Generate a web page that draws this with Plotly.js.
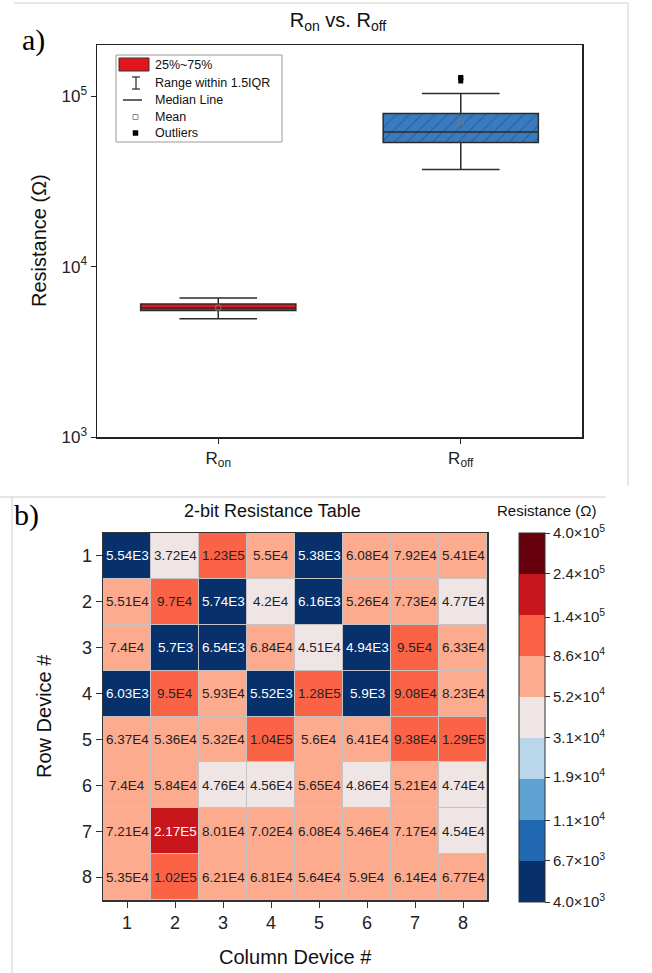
<!DOCTYPE html>
<html>
<head>
<meta charset="utf-8">
<script src="https://cdn.plot.ly/plotly-3.0.1.min.js"></script>
<style>html,body{margin:0;padding:0;background:#fff;}#chart{width:652px;height:973px;}</style>
</head>
<body>
<div id="chart"></div>
<script>
// ---------------- DATA ----------------
const colLabels = ['1','2','3','4','5','6','7','8'];
const rowLabels = ['1','2','3','4','5','6','7','8'];
const row1 = [5.54e3, 3.72e4, 1.23e5, 5.5e4, 5.38e3, 6.08e4, 7.92e4, 5.41e4];
const row2 = [5.51e4, 9.7e4, 5.74e3, 4.2e4, 6.16e3, 5.26e4, 7.73e4, 4.77e4];
const row3 = [7.4e4, 5.7e3, 6.54e3, 6.84e4, 4.51e4, 4.94e3, 9.5e4, 6.33e4];
const row4 = [6.03e3, 9.5e4, 5.93e4, 5.52e3, 1.28e5, 5.9e3, 9.08e4, 8.23e4];
const row5 = [6.37e4, 5.36e4, 5.32e4, 1.04e5, 5.6e4, 6.41e4, 9.38e4, 1.29e5];
const row6 = [7.4e4, 5.84e4, 4.76e4, 4.56e4, 5.65e4, 4.86e4, 5.21e4, 4.74e4];
const row7 = [7.21e4, 2.17e5, 8.01e4, 7.02e4, 6.08e4, 5.46e4, 7.17e4, 4.54e4];
const row8 = [5.35e4, 1.02e5, 6.21e4, 6.81e4, 5.64e4, 5.9e4, 6.14e4, 6.77e4];
const rows = [row1, row2, row3, row4, row5, row6, row7, row8];

const boxCats = ['R<sub>on</sub>', 'R<sub>off</sub>'];
const onThreshold = 1e4; // cells below are the ON state
const yTickVals = [1e3, 1e4, 1e5];
const yTickText = ['10<sup>3</sup>', '10<sup>4</sup>', '10<sup>5</sup>'];

const cbLevels = [4.0e3, 6.7e3, 1.1e4, 1.9e4, 3.1e4, 5.2e4, 8.6e4, 1.4e5, 2.4e5, 4.0e5];
const cbLabels = ['4.0×10<sup>3</sup>','6.7×10<sup>3</sup>','1.1×10<sup>4</sup>','1.9×10<sup>4</sup>','3.1×10<sup>4</sup>',
                  '5.2×10<sup>4</sup>','8.6×10<sup>4</sup>','1.4×10<sup>5</sup>','2.4×10<sup>5</sup>','4.0×10<sup>5</sup>'];
const binColors = ['#08306b','#2068b0','#5fa3d3','#bad6eb','#efe5e5','#fcab8f','#fb6346','#c9161c','#67000d'];

// ---------------- HELPERS ----------------
const W = 652, H = 973;
const P = x => x / W;
const Q = y => 1 - y / H;
const FONT = 'Liberation Sans, Arial, sans-serif';
const SERIF = 'Liberation Serif, Times New Roman, serif';
const fmt = v => {
  const e = Math.floor(Math.log10(v));
  let m = (v / Math.pow(10, e)).toFixed(2).replace(/0+$/, '').replace(/\.$/, '');
  return m + 'E' + e;
};

const allVals = rows.flat();
const onVals = allVals.filter(v => v < onThreshold);
const offVals = allVals.filter(v => v >= onThreshold);

// discrete colorscale
const zmin = Math.log10(cbLevels[0]), zmax = Math.log10(cbLevels[cbLevels.length - 1]);
const colorscale = [];
binColors.forEach((c, i) => {
  colorscale.push([i / binColors.length, c]);
  colorscale.push([(i + 1) / binColors.length, c]);
});

const zLog = rows.map(r => r.map(v => Math.log10(v)));
const xIdx = colLabels.map((_, i) => i + 1);
const yIdx = rowLabels.map((_, i) => i + 1);

// ---------------- TRACES ----------------
const lineCol = '#2b2b2b';
const boxOn = {
  type: 'box', x: onVals.map(() => boxCats[0]), y: onVals, xaxis: 'x', yaxis: 'y',
  width: 0.64, whiskerwidth: 0.5, fillcolor: '#e4161b',
  line: {color: lineCol, width: 1.5}, boxpoints: 'outliers',
  marker: {symbol: 'square', size: 5, color: '#000'}, showlegend: false, hoverinfo: 'y'
};
const boxOff = {
  type: 'box', x: offVals.map(() => boxCats[1]), y: offVals, xaxis: 'x', yaxis: 'y',
  width: 0.64, whiskerwidth: 0.5, fillcolor: 'rgba(0,0,0,0)',
  line: {color: lineCol, width: 1.5}, boxpoints: 'outliers',
  marker: {symbol: 'square', size: 5, color: '#000'}, showlegend: false, hoverinfo: 'y'
};
const heat = {
  type: 'heatmap', z: zLog, x: xIdx, y: yIdx, xaxis: 'x2', yaxis: 'y2',
  zmin: zmin, zmax: zmax, colorscale: colorscale, xgap: 1, ygap: 1,
  hoverinfo: 'skip',
  colorbar: {
    x: P(519), xanchor: 'left', y: Q(533), yanchor: 'top',
    len: 369, lenmode: 'pixels', thickness: 26, thicknessmode: 'pixels',
    xpad: 0, ypad: 0, outlinewidth: 1, outlinecolor: '#333',
    tickmode: 'array', tickvals: cbLevels.map(v => Math.log10(v)), ticktext: cbLabels,
    ticks: 'outside', ticklen: 5, tickcolor: '#333',
    tickfont: {family: FONT, size: 15, color: '#222'}
  }
};

// ---------------- ANNOTATIONS / SHAPES ----------------
const annotations = [];
const shapes = [];
const label = (text, x, y, size, opts) => Object.assign({
  xref: 'paper', yref: 'paper', x: P(x), y: Q(y), xanchor: 'center', yanchor: 'middle',
  text: text, showarrow: false, font: {family: FONT, size: size, color: '#111'}
}, opts || {});

// cell texts
rows.forEach((r, i) => r.forEach((v, j) => {
  const lz = Math.log10(v);
  const bin = Math.floor((lz - zmin) / (zmax - zmin) * binColors.length);
  const light = (bin <= 1 || bin >= 7);
  annotations.push({
    xref: 'x2', yref: 'y2', x: xIdx[j], y: yIdx[i], xanchor: 'center', yanchor: 'middle',
    text: fmt(v), showarrow: false,
    font: {family: FONT, size: 13.5, color: light ? '#ffffff' : '#222222'}
  });
}));

// background for heatmap cell borders
shapes.push({type: 'rect', xref: 'x2', yref: 'y2', x0: 0.5, x1: 8.5, y0: 0.5, y1: 8.5,
  fillcolor: '#c4c4c4', line: {width: 0}, layer: 'below'});

// panel frames
const frameCol = '#cfcfcf';
shapes.push({type: 'line', xref: 'paper', yref: 'paper', x0: P(14), x1: P(628), y0: Q(3), y1: Q(3), line: {color: frameCol, width: 1}});
shapes.push({type: 'line', xref: 'paper', yref: 'paper', x0: P(628), x1: P(628), y0: Q(3), y1: Q(486), line: {color: frameCol, width: 1}});
shapes.push({type: 'line', xref: 'paper', yref: 'paper', x0: P(0), x1: P(606), y0: Q(497), y1: Q(497), line: {color: frameCol, width: 1}});
shapes.push({type: 'line', xref: 'paper', yref: 'paper', x0: P(12), x1: P(12), y0: Q(497), y1: Q(973), line: {color: frameCol, width: 1}});

// legend box (panel a)
shapes.push({type: 'rect', xref: 'paper', yref: 'paper', x0: P(116), x1: P(282), y0: Q(55), y1: Q(142),
  fillcolor: '#ffffff', line: {color: '#9a9a9a', width: 1}});
shapes.push({type: 'rect', xref: 'paper', yref: 'paper', x0: P(119), x1: P(149), y0: Q(58), y1: Q(71),
  fillcolor: '#e4161b', line: {color: '#333', width: 1}});
shapes.push({type: 'line', xref: 'paper', yref: 'paper', x0: P(136), x1: P(136), y0: Q(77), y1: Q(89), line: {color: '#222', width: 1.2}});
shapes.push({type: 'line', xref: 'paper', yref: 'paper', x0: P(132), x1: P(140), y0: Q(77), y1: Q(77), line: {color: '#222', width: 1.2}});
shapes.push({type: 'line', xref: 'paper', yref: 'paper', x0: P(132), x1: P(140), y0: Q(89), y1: Q(89), line: {color: '#222', width: 1.2}});
shapes.push({type: 'line', xref: 'paper', yref: 'paper', x0: P(123), x1: P(142), y0: Q(100), y1: Q(100), line: {color: '#222', width: 1.4}});
shapes.push({type: 'rect', xref: 'paper', yref: 'paper', x0: P(133), x1: P(138), y0: Q(114.5), y1: Q(119.5), fillcolor: '#fff', line: {color: '#888', width: 1}});
shapes.push({type: 'rect', xref: 'paper', yref: 'paper', x0: P(133), x1: P(138), y0: Q(130.5), y1: Q(135.5), fillcolor: '#000', line: {color: '#000', width: 0.5}});
const legTexts = [['25%~75%', 65], ['Range within 1.5IQR', 83], ['Median Line', 100], ['Mean', 117], ['Outliers', 133]];
legTexts.forEach(([t, y]) => annotations.push(label(t, 153, y, 12.5, {xanchor: 'left'})));

// titles & labels
annotations.push(label('Resistance (Ω)', 39, 241, 20, {textangle: -90}));
annotations.push(label('a)', 33, 40, 30, {font: {family: SERIF, size: 30, color: '#000'}}));
annotations.push(label('b)', 27, 515, 30, {font: {family: SERIF, size: 30, color: '#000'}}));
annotations.push(label('2-bit Resistance Table', 272, 511, 18));
annotations.push(label('Resistance (Ω)', 547, 511, 15));
annotations.push(label('Row Device #', 44, 716, 20, {textangle: -90}));
annotations.push(label('Column Device #', 295, 957, 20));

// ---------------- LAYOUT ----------------
const layout = {
  width: W, height: H, margin: {l: 0, r: 0, t: 0, b: 0},
  paper_bgcolor: '#ffffff', plot_bgcolor: '#ffffff',
  font: {family: FONT, color: '#222'},
  showlegend: false,
  title: {text: 'R<sub>on</sub> vs. R<sub>off</sub>', x: P(338), y: Q(20), xanchor: 'center', yanchor: 'middle',
          xref: 'paper', yref: 'paper', font: {family: FONT, size: 20, color: '#111'}},
  xaxis: {domain: [P(97), P(582)], anchor: 'y', type: 'category', range: [-0.5, 1.5],
    showline: true, mirror: true, linecolor: '#222', linewidth: 1.5, ticks: 'outside', ticklen: 5,
    tickcolor: '#222', tickfont: {size: 17, color: '#222'}, showgrid: false, automargin: false, fixedrange: true},
  yaxis: {domain: [Q(437), Q(45)], anchor: 'x', type: 'log', range: [3, Math.log10(2e5)],
    tickmode: 'array', tickvals: yTickVals, ticktext: yTickText,
    showline: true, mirror: true, linecolor: '#222', linewidth: 1.5, ticks: 'outside', ticklen: 5,
    tickcolor: '#222', tickfont: {size: 17, color: '#222'}, showgrid: false, zeroline: false, automargin: false, fixedrange: true},
  xaxis2: {domain: [P(103), P(487)], anchor: 'y2', range: [0.5, 8.5], tickmode: 'array', tickvals: xIdx, ticktext: colLabels,
    showline: true, mirror: true, linecolor: '#333', linewidth: 1.5, ticks: 'outside', ticklen: 6, tickcolor: '#333',
    tickfont: {size: 18, color: '#222'}, showgrid: false, zeroline: false, automargin: false, fixedrange: true},
  yaxis2: {domain: [Q(900), Q(533)], anchor: 'x2', range: [8.5, 0.5], tickmode: 'array', tickvals: yIdx, ticktext: rowLabels,
    showline: true, mirror: true, linecolor: '#333', linewidth: 1.5, ticks: 'outside', ticklen: 6, tickcolor: '#333',
    tickfont: {size: 18, color: '#222'}, showgrid: false, zeroline: false, automargin: false, fixedrange: true},
  annotations: annotations, shapes: shapes
};

Plotly.newPlot('chart', [boxOn, boxOff, heat], layout, {staticPlot: true, displayModeBar: false}).then(gd => {
  // use the library's own box statistics for the hatched fill and mean markers
  const cOn = gd.calcdata[0][0], cOff = gd.calcdata[1][0];
  const hatch = {
    type: 'bar', x: [boxCats[1]], base: [cOff.q1], y: [cOff.q3 - cOff.q1], width: 0.64, xaxis: 'x', yaxis: 'y',
    marker: {color: '#3a7bbf', line: {width: 0},
      pattern: {shape: '/', fillmode: 'overlay', fgcolor: '#1c3d6b', size: 9, solidity: 0.12}},
    showlegend: false, hoverinfo: 'skip'
  };
  const means = {
    type: 'scatter', mode: 'markers', x: boxCats, y: [cOn.mean, cOff.mean], xaxis: 'x', yaxis: 'y',
    marker: {symbol: 'square-open', size: 5, color: '#777', line: {width: 1}}, showlegend: false, hoverinfo: 'skip'
  };
  return Plotly.addTraces(gd, [hatch, means]);
});
</script>
</body>
</html>
